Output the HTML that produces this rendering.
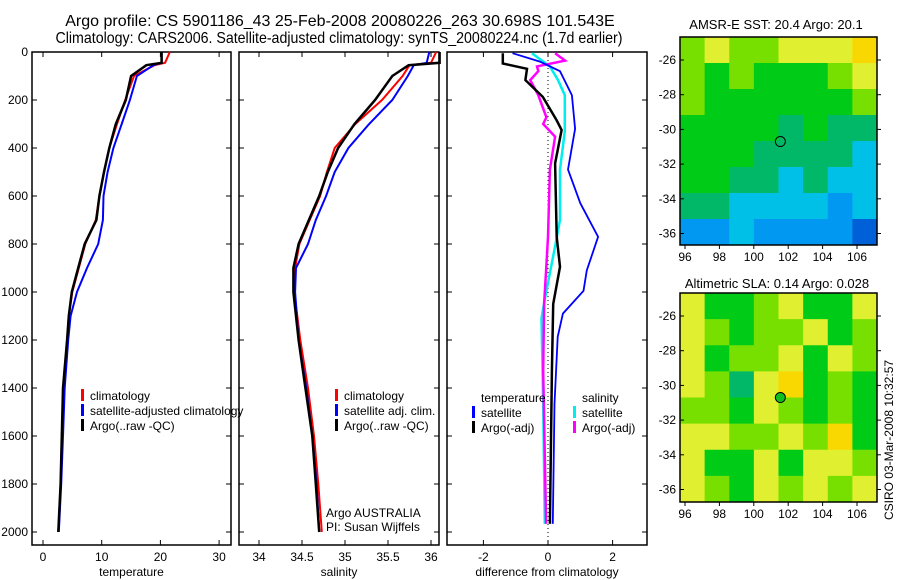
<!DOCTYPE html>
<html><head><meta charset="utf-8"><style>
body{margin:0;background:#fff;}
svg{display:block;font-family:"Liberation Sans",sans-serif;}
</style></head><body>
<svg id="c" width="900" height="580" xmlns="http://www.w3.org/2000/svg">
<text x="340" y="26" font-size="16" text-anchor="middle">Argo profile: CS 5901186_43 25-Feb-2008 20080226_263 30.698S 101.543E</text>
<text x="339" y="43" font-size="16" text-anchor="middle" textLength="567" lengthAdjust="spacingAndGlyphs">Climatology: CARS2006. Satellite-adjusted climatology: synTS_20080224.nc (1.7d earlier)</text>
<text x="776" y="29" font-size="13" text-anchor="middle">AMSR-E SST: 20.4  Argo: 20.1</text>
<text x="777" y="288" font-size="13" text-anchor="middle">Altimetric SLA: 0.14  Argo: 0.028</text>
<text x="0" y="0" font-size="12" text-anchor="middle" transform="translate(893,440) rotate(-90)">CSIRO 03-Mar-2008 10:32:57</text>
<g id="g"></g>
</svg>
<script>
// ---------- data ----------
const tDepth=[0,45,55,100,200,300,400,500,600,700,800,900,1000,1100,1200,1400,1600,1800,2000];
const tClim=[21.6,20.8,19.0,15.5,14.0,12.6,11.3,10.4,9.6,9.0,7.2,6.1,5.0,4.4,4.1,3.5,3.2,3.0,2.6];
const tSat=[20.2,20.2,18.8,16.0,14.8,13.4,12.0,11.0,10.3,10.2,9.4,7.5,5.8,4.7,4.3,3.7,3.4,3.1,2.7];
const tArgo=[20.2,20.2,17.6,15.0,14.1,12.4,11.3,10.4,9.6,9.1,7.1,6.0,4.9,4.4,4.1,3.4,3.2,3.0,2.6];
const sDepth=[0,45,55,100,200,300,400,500,600,700,800,900,1000,1200,1400,1600,1800,2000];
const sClim=[36.06,36.0,35.75,35.67,35.43,35.12,34.88,34.79,34.71,34.59,34.47,34.42,34.41,34.48,34.57,34.64,34.69,34.73];
const sSat=[35.98,35.95,35.8,35.73,35.55,35.28,35.04,34.88,34.78,34.66,34.57,34.43,34.42,34.46,34.55,34.62,34.67,34.70];
const sArgo=[36.1,36.1,35.74,35.55,35.35,35.11,34.92,34.8,34.7,34.58,34.46,34.4,34.4,34.46,34.54,34.62,34.66,34.7];
const dBlueD=[5,40,80,180,320,490,630,770,910,995,1090,1187,1465,1966];
const dBlue=[-1.1,-0.25,0.37,0.74,0.84,0.62,1.0,1.55,1.2,1.1,0.46,0.3,0.2,0.15];
const dBlackD=[5,48,70,117,187,285,325,464,770,895,1050,1330,1966];
const dBlack=[-1.4,-1.4,-0.65,-0.7,-0.16,0.27,0.42,0.22,0.27,0.37,0.16,0.12,0.06];
const dCyanD=[5,60,117,180,330,490,700,810,1030,1110,1465,1966];
const dCyan=[-0.5,0.06,0.31,0.52,0.52,0.37,0.37,0.22,-0.1,-0.2,-0.15,-0.1];
const dMagD=[5,36,60,80,117,180,272,300,353,490,770,910,1050,1330,1966];
const dMag=[0.22,0.53,-0.34,-0.3,-0.55,-0.3,-0.05,-0.15,0.22,0.06,0,-0.06,-0.12,-0.15,-0.06];
const sstGrid=[[5,6,5,5,6,6,6,7],[5,4,5,4,4,4,5,6],[5,4,4,4,4,4,4,5],[4,4,4,4,3,4,3,3],[4,4,4,3,3,3,3,2],[4,4,3,3,2,3,2,2],[3,3,2,2,2,2,1,2],[1,1,2,1,1,1,1,0]];
const slaGrid=[[6,4,4,5,6,4,4,6],[6,5,4,5,5,6,4,5],[6,4,5,5,6,4,6,5],[6,5,3,6,7,4,5,4],[5,5,4,6,5,4,5,4],[6,6,5,5,6,5,7,4],[6,4,4,6,4,6,6,5],[6,5,4,6,5,6,5,6]];
const palette=["#0060d8","#0098f0","#00c0e8","#00b868","#00cc18","#78e000","#e0f030","#f8d800"];
const depthTicks=[0,200,400,600,800,1000,1200,1400,1600,1800,2000];
const tTicks=[0,10,20,30];
const sTicks=[34,34.5,35,35.5,36];
const dTicks=[-2,0,2];
const latTicks=[-26,-28,-30,-32,-34,-36];
const lonTicks=[96,98,100,102,104,106];
const argoLon=101.543, argoLat=-30.698;

// ---------- helpers ----------
const NS="http://www.w3.org/2000/svg";
const G=document.getElementById('g');
function mk(tag,at,parent){const e=document.createElementNS(NS,tag);for(const k in at)e.setAttribute(k,at[k]);(parent||G).appendChild(e);return e;}
const yD=d=>52+d*0.24;
const xT=v=>43+v*5.87, xS=v=>259+(v-34)*86, xDf=v=>548+v*32.3;
const Y0=52,Y1=545;

function frame(x0,x1,name){
  const r=mk('rect',{x:x0,y:Y0,width:x1-x0,height:Y1-Y0,fill:'none',stroke:'#000','stroke-width':1.5});
  
  
}
function line(xs,ds,xf,col,w,name){
  const pts=xs.map((v,i)=>xf(v).toFixed(1)+','+yD(ds[i]).toFixed(1)).join(' ');
  const p=mk('polyline',{points:pts,fill:'none',stroke:col,'stroke-width':w,'stroke-linejoin':'miter'});
  
  
}
function xticks(ticks,xf,x0,x1,lab,name){
  ticks.forEach(t=>{
    const x=xf(t);
    mk('line',{x1:x,x2:x,y1:Y1,y2:Y1-5,stroke:'#000'});
    mk('line',{x1:x,x2:x,y1:Y0,y2:Y0+5,stroke:'#000'});
    const tx=mk('text',{x:x,y:561,'font-size':12,'text-anchor':'middle'});tx.textContent=t;
    
    
  });
  const l=mk('text',{x:(x0+x1)/2,y:576,'font-size':12,'text-anchor':'middle'});l.textContent=lab;
  
  
}
function yticks(x0,x1,labels){
  depthTicks.forEach(d=>{
    const y=yD(d);
    mk('line',{x1:x0,x2:x0+5,y1:y,y2:y,stroke:'#000'});
    mk('line',{x1:x1,x2:x1-5,y1:y,y2:y,stroke:'#000'});
    if(labels){const t=mk('text',{x:28,y:y+4,'font-size':12,'text-anchor':'end'});t.textContent=d;
      
      }
  });
}
function legend(x,y,items){
  items.forEach((it,i)=>{
    mk('rect',{x:x,y:y+i*15-9,width:3,height:12,fill:it[0]});
    const t=mk('text',{x:x+9,y:y+i*15+2,'font-size':12});t.textContent=it[1];
    
    
  });
}

// panel 1 temperature
frame(32,231,'temperature-axes');yticks(32,231,true);
xticks(tTicks,xT,32,231,'temperature','x-axis-title-temperature');
line(tClim,tDepth,xT,'#f00',2,'temp-climatology-line');
line(tSat,tDepth,xT,'#00f',2,'temp-satellite-line');
line(tArgo,tDepth,xT,'#000',2.5,'temp-argo-line');
legend(81,398,[['#f00','climatology'],['#00f','satellite-adjusted climatology'],['#000','Argo(..raw -QC)']]);
// panel 2 salinity
frame(239,439,'salinity-axes');yticks(239,439,false);
xticks(sTicks,xS,239,439,'salinity','x-axis-title-salinity');
line(sClim,sDepth,xS,'#f00',2,'sal-climatology-line');
line(sSat,sDepth,xS,'#00f',2,'sal-satellite-line');
line(sArgo,sDepth,xS,'#000',2.5,'sal-argo-line');
legend(335,398,[['#f00','climatology'],['#00f','satellite adj. clim.'],['#000','Argo(..raw -QC)']]);
let t1=mk('text',{x:326,y:517,'font-size':12});t1.textContent='Argo AUSTRALIA';


let t2=mk('text',{x:326,y:531,'font-size':12});t2.textContent='PI: Susan Wijffels';


// panel 3 differences
frame(447,647,'difference-axes');yticks(447,647,false);
mk('line',{x1:xDf(0),x2:xDf(0),y1:Y0,y2:Y1,stroke:'#000','stroke-dasharray':'1,3'});
xticks(dTicks,xDf,447,647,'difference from climatology','x-axis-title-difference');
line(dCyan,dCyanD,xDf,'#0ee',2.5,'sal-satellite-diff-line');
line(dMag,dMagD,xDf,'#f0f',2.5,'sal-argo-diff-line');
line(dBlue,dBlueD,xDf,'#00f',1.8,'temp-satellite-diff-line');
line(dBlack,dBlackD,xDf,'#000',2.5,'temp-argo-diff-line');
let tt=mk('text',{x:481,y:402,'font-size':12});tt.textContent='temperature';


let st=mk('text',{x:582,y:402,'font-size':12});st.textContent='salinity';


legend(472,415,[['#00f','satellite'],['#000','Argo(-adj)']]);
legend(573,415,[['#0ee','satellite'],['#f0f','Argo(-adj)']]);

// maps
const xL=v=>685+(v-96)*17.2;
function map(y0,h,lat26y,grid,name,filled){
  const x0=680,w=197,rows=grid.length,cols=grid[0].length;
  const yL=v=>lat26y+(-26-v)*17.35;
  grid.forEach((row,r)=>row.forEach((v,c)=>{
    const cell=mk('rect',{x:x0+c*w/cols,y:y0+r*h/rows,width:w/cols+0.5,height:h/rows+0.5,fill:palette[v]});
    
    
  }));
  const fr=mk('rect',{x:x0,y:y0,width:w,height:h,fill:'none',stroke:'#000','stroke-width':1.5});
  
  
  latTicks.forEach(l=>{const y=yL(l);
    mk('line',{x1:x0,x2:x0+4,y1:y,y2:y,stroke:'#000'});mk('line',{x1:x0+w,x2:x0+w+4,y1:y,y2:y,stroke:'#000'});
    const t=mk('text',{x:x0-4,y:y+4,'font-size':12,'text-anchor':'end'});t.textContent=l;
    
    });
  lonTicks.forEach(l=>{const x=xL(l);
    mk('line',{x1:x,x2:x,y1:y0+h,y2:y0+h+4,stroke:'#000'});
    const t=mk('text',{x:x,y:y0+h+16,'font-size':12,'text-anchor':'middle'});t.textContent=l;
    
    });
  const c=mk('circle',{cx:xL(argoLon),cy:yL(argoLat),r:5,fill:filled?'#10c020':'none',stroke:'#000'});
  
  
}
map(37,208,60,sstGrid,'sst-map',false);
map(293,209,316,slaGrid,'sla-map',true);
</script>
</body></html>
